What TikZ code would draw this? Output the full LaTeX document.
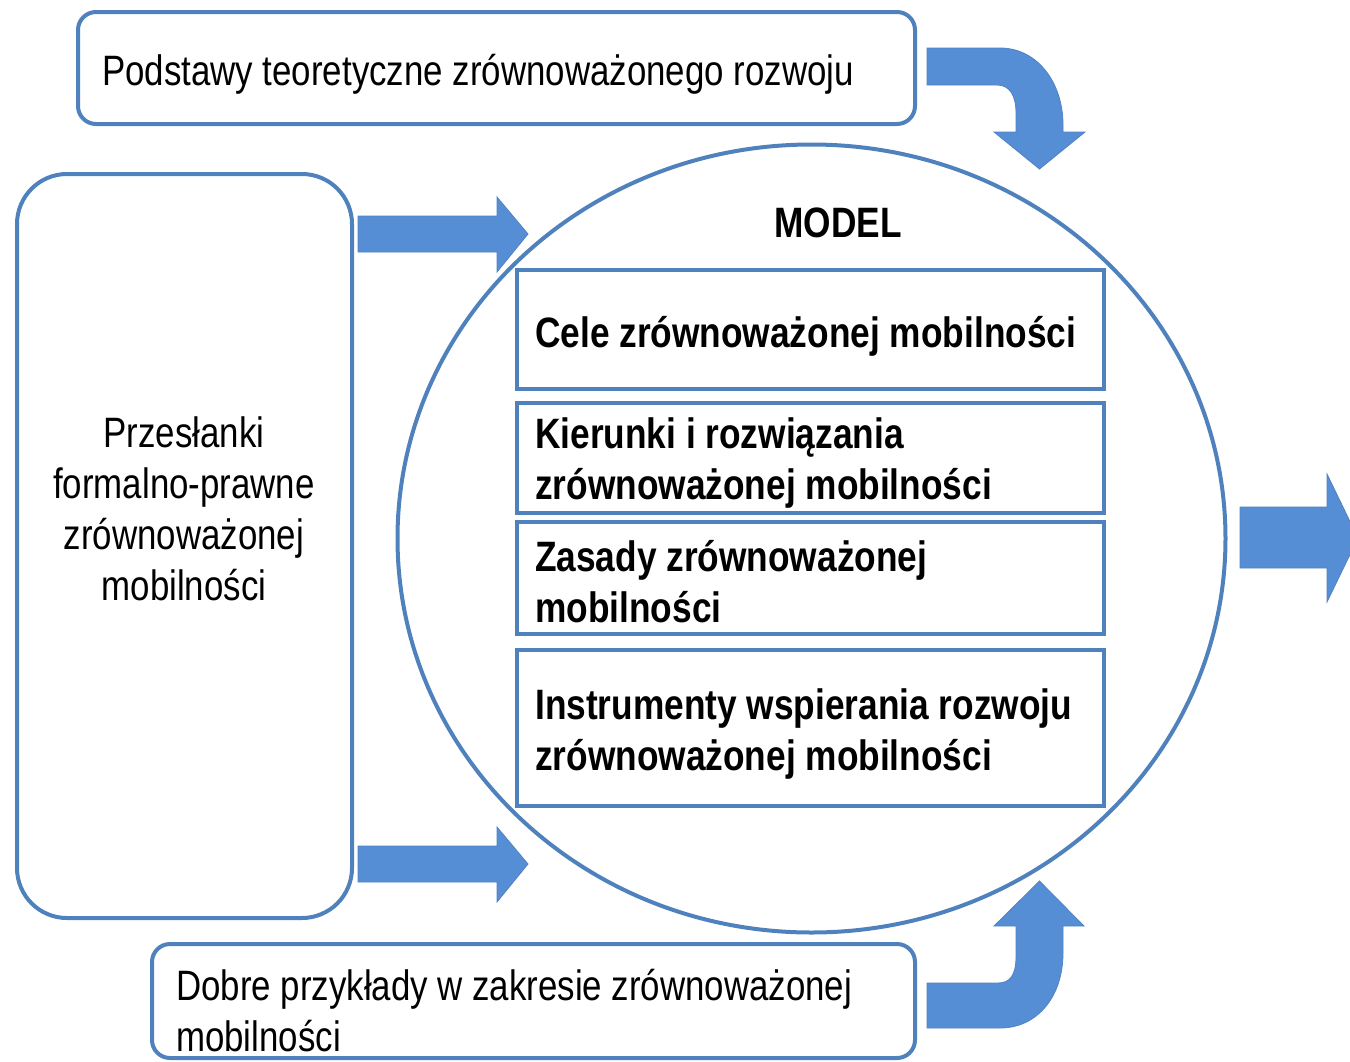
\documentclass[tikz,border=0pt]{standalone}
\usepackage{fontspec}
\setmainfont{Liberation Sans}[FakeStretch=0.82,BoldFeatures={FakeStretch=0.83}]
\usetikzlibrary{shapes.geometric}
\definecolor{bord}{RGB}{79,129,189}
\definecolor{arrfill}{RGB}{85,142,213}
\begin{document}
\begin{tikzpicture}[x=1pt,y=-1pt,
  frame/.style={draw=bord, line width=4pt, fill=white, inner sep=0pt, outer sep=0pt, anchor=north west},
  inbox/.style={draw=bord, line width=4.5pt, fill=white, inner sep=0pt, outer sep=0pt, anchor=north west, minimum width=587pt},
  blockarrow/.style={fill=arrfill, draw=bord!85!arrfill, line width=0.8pt},
  txt/.style={inner sep=0pt, anchor=base west, font=\fontsize{42.5}{51}\selectfont},
  btxt/.style={inner sep=0pt, anchor=base west, font=\fontsize{42.5}{51}\selectfont\bfseries}]
\useasboundingbox (0,0) rectangle (1350,1061);
\clip (0,0) rectangle (1350,1061);

% outer frames
\node[frame, rounded corners=18pt, minimum width=837pt, minimum height=112pt] (top) at (78,12) {};
\node[frame, rounded corners=50pt, minimum width=335pt, minimum height=744pt] (left) at (17,174) {};
\node[frame, rounded corners=18pt, minimum width=763pt, minimum height=114pt] (bottom) at (152,944) {};

% model circle
\node[ellipse, draw=bord, line width=4pt, minimum width=828pt, minimum height=788pt, inner sep=0pt, outer sep=0pt] (model) at (811.5,538.5) {};

% inner boxes
\node[inbox, minimum height=119pt] (b1) at (517,270) {};
\node[inbox, minimum height=110pt] (b2) at (517,403) {};
\node[inbox, minimum height=112pt] (b3) at (517,522) {};
\node[inbox, minimum height=156pt] (b4) at (517,650) {};

% texts
\node[txt] (ttop) at (102,85) {Podstawy teoretyczne zrównoważonego rozwoju};
\node[txt, anchor=base] (tleft) at (184,447) {\begin{tabular}[t]{@{}c@{}}Przesłanki\\formalno-prawne\\zrównoważonej\\mobilności\end{tabular}};
\node[txt] (tbottom) at (176,1000) {\begin{tabular}[t]{@{}l@{}}Dobre przykłady w zakresie zrównoważonej\\mobilności\end{tabular}};
\node[btxt, anchor=base] (tmodel) at (838,237) {MODEL};
\node[btxt] (t1) at (535,347) {Cele zrównoważonej mobilności};
\node[btxt] (t2) at (535,448) {\begin{tabular}[t]{@{}l@{}}Kierunki i rozwiązania\\zrównoważonej mobilności\end{tabular}};
\node[btxt] (t3) at (535,571) {\begin{tabular}[t]{@{}l@{}}Zasady zrównoważonej\\mobilności\end{tabular}};
\node[btxt] (t4) at (535,719) {\begin{tabular}[t]{@{}l@{}}Instrumenty wspierania rozwoju\\zrównoważonej mobilności\end{tabular}};

% block arrows
\draw[blockarrow] (358,216) -- (497,216) -- (497,197) -- (528,234) -- (497,272) -- (497,252) -- (358,252) -- cycle;
\draw[blockarrow] (358,846) -- (497,846) -- (497,827) -- (528,864) -- (497,902) -- (497,882) -- (358,882) -- cycle;
\draw[blockarrow] (1240,507) -- (1327,507) -- (1327,474) -- (1358,538) -- (1327,602) -- (1327,568) -- (1240,568) -- cycle;
\draw[blockarrow] (927,48) -- (1000,48) .. controls (1037,48) and (1063,82) .. (1063,125) -- (1063,132) -- (1085,132) -- (1039.5,169) -- (994,132) -- (1016,132) -- (1016,113) .. controls (1016,96) and (1010,85) .. (997,85) -- (927,85) -- cycle;
\draw[blockarrow] (927,1028) -- (1000,1028) .. controls (1037,1028) and (1063,997) .. (1063,953) -- (1063,926) -- (1084,926) -- (1039.5,881) -- (994,926) -- (1016,926) -- (1016,957) .. controls (1016,975) and (1010,983) .. (998,983) -- (927,983) -- cycle;
\end{tikzpicture}
\end{document}
